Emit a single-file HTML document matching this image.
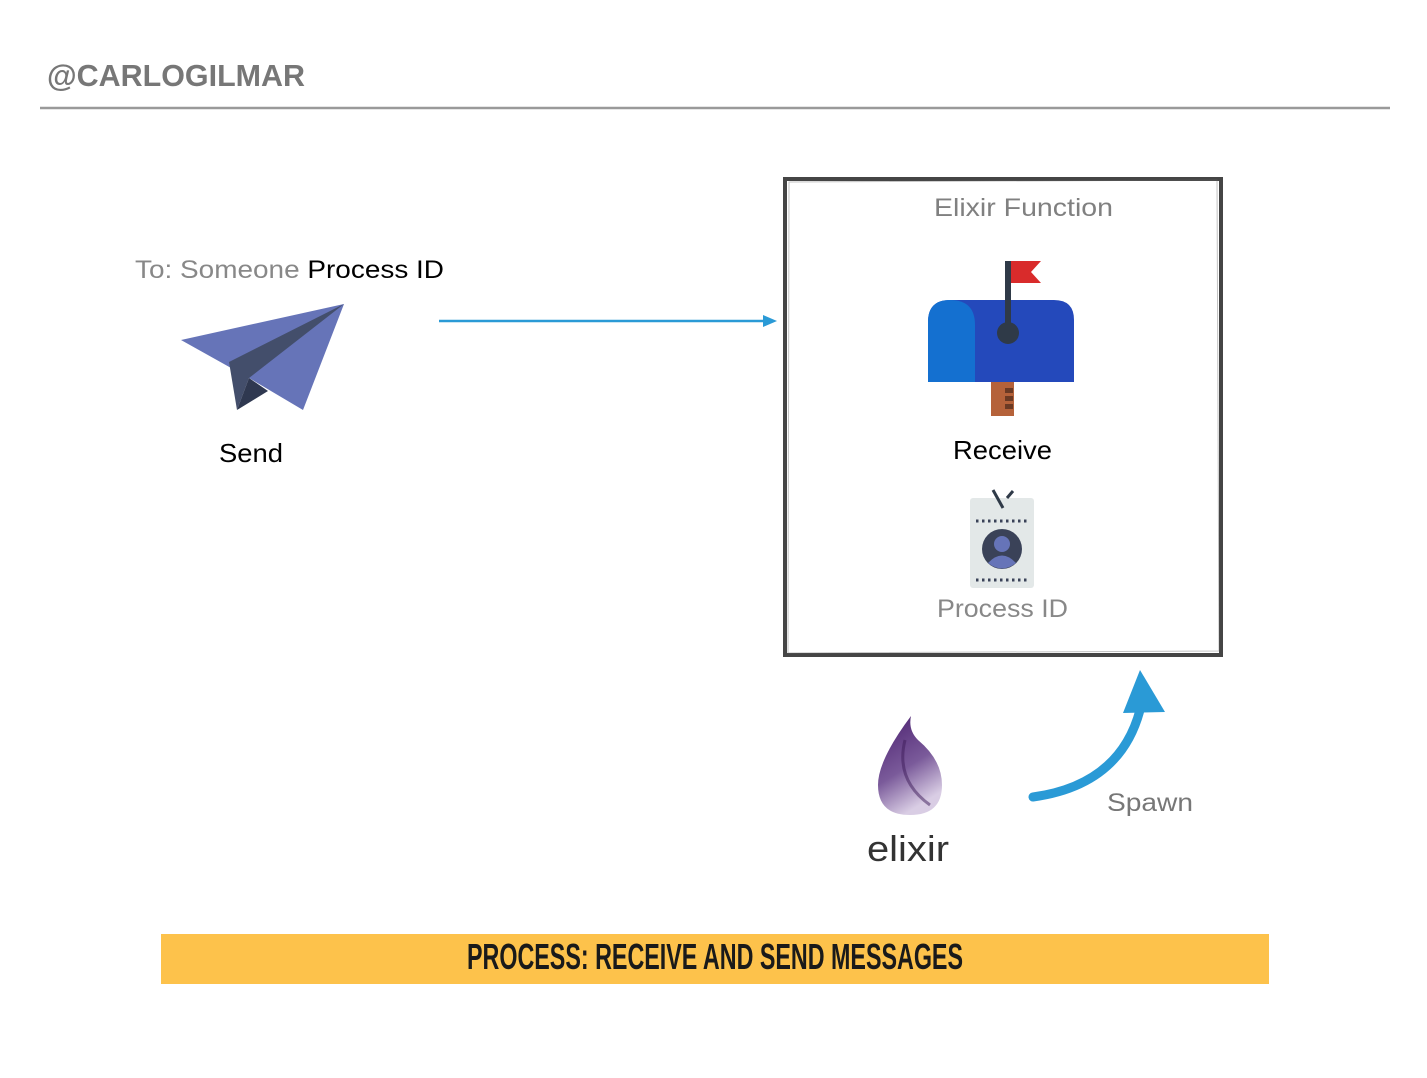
<!DOCTYPE html>
<html><head><meta charset="utf-8"><style>
html,body{margin:0;padding:0;background:#fff}
svg{display:block}
text{font-family:"Liberation Sans",sans-serif}
</style></head><body>
<svg width="1427" height="1078" viewBox="0 0 1427 1078" xmlns="http://www.w3.org/2000/svg">
<text x="47" y="86" font-size="31" font-weight="bold" fill="#777" textLength="258" lengthAdjust="spacingAndGlyphs">@CARLOGILMAR</text>
<line x1="40" y1="108" x2="1390" y2="108" stroke="#9a9a9a" stroke-width="2.5"/>

<!-- box -->
<rect x="785" y="179" width="436" height="476" fill="none" stroke="#454545" stroke-width="4"/>
<path d="M789 182 L1217 180 L1219 651 L788 653 Z" fill="none" stroke="#666" stroke-width="1" opacity="0.4"/>
<text x="934" y="216" font-size="25" fill="#808080" textLength="179" lengthAdjust="spacingAndGlyphs">Elixir Function</text>

<!-- send -->
<text x="135" y="278" font-size="25" fill="#888" textLength="309" lengthAdjust="spacingAndGlyphs">To: Someone <tspan fill="#000">Process ID</tspan></text>
<polygon points="181,340 344,304 303,410 249,378" fill="#6674b8"/>
<polygon points="229,362 344,304 249,378 237,410" fill="#434e6b"/>
<polygon points="249,378 237,410 268,391" fill="#2f3850"/>
<text x="219" y="462" font-size="26" fill="#000" textLength="64" lengthAdjust="spacingAndGlyphs">Send</text>

<line x1="439" y1="321" x2="766" y2="321" stroke="#2a9ad6" stroke-width="2.5"/>
<polygon points="777,321 763,315 763,327" fill="#2a9ad6"/>

<!-- mailbox -->
<rect x="991" y="382" width="23" height="34" fill="#b5623a"/>
<rect x="1005" y="388" width="8" height="5" fill="#6b3a24"/>
<rect x="1005" y="396" width="8" height="5" fill="#6b3a24"/>
<rect x="1005" y="404" width="8" height="5" fill="#6b3a24"/>
<path d="M950 300 H1054 Q1074 300 1074 320 V382 H928 V322 Q928 300 950 300Z" fill="#2449bb"/>
<path d="M950 300 Q975 300 975 325 V382 H928 V322 Q928 300 950 300Z" fill="#1470d0"/>
<rect x="1005" y="261" width="6" height="72" fill="#2f3a48"/>
<circle cx="1008" cy="333" r="11" fill="#2f3a48"/>
<polygon points="1011,261 1041,261 1031,272 1041,283 1011,283" fill="#d92b2b"/>
<text x="953" y="459" font-size="26" fill="#000" textLength="99" lengthAdjust="spacingAndGlyphs">Receive</text>

<!-- badge -->
<rect x="970" y="498" width="64" height="90" rx="3" fill="#e3e8e8"/>
<line x1="993" y1="490" x2="1003" y2="508" stroke="#2f3a48" stroke-width="3"/>
<line x1="1007" y1="498" x2="1013" y2="491" stroke="#2f3a48" stroke-width="3"/>
<line x1="976" y1="521" x2="1030" y2="521" stroke="#3a4258" stroke-width="3" stroke-dasharray="2.5,3.5"/>
<line x1="976" y1="580" x2="1030" y2="580" stroke="#3a4258" stroke-width="3" stroke-dasharray="2.5,3.5"/>
<circle cx="1002" cy="549" r="20" fill="#3a4258"/>
<circle cx="1002" cy="544" r="8" fill="#6674b8"/>
<path d="M988 563 Q1002 548 1016 563 Q1002 574 988 563Z" fill="#6674b8"/>
<text x="937" y="617" font-size="25" fill="#888" textLength="131" lengthAdjust="spacingAndGlyphs">Process ID</text>

<!-- elixir drop -->
<defs><linearGradient id="g" x1="0" y1="0" x2="0.4" y2="1"><stop offset="0" stop-color="#4a1f6e"/><stop offset="0.6" stop-color="#7a5a9a"/><stop offset="1" stop-color="#d9cde4"/></linearGradient></defs>
<path d="M911 716 Q878 760 878 785 Q878 815 910 815 Q942 815 942 785 Q942 760 918 740 Q908 730 911 716Z" fill="url(#g)"/>
<path d="M905 740 Q895 780 930 805" fill="none" stroke="#3c1a58" stroke-width="3" opacity="0.5"/>
<text x="867" y="861" font-size="36" fill="#333" textLength="82" lengthAdjust="spacingAndGlyphs">elixir</text>

<!-- spawn arrow -->
<path d="M1033 797 Q1120 785 1140 710" fill="none" stroke="#2a9ad6" stroke-width="9" stroke-linecap="round"/>
<polygon points="1123,713 1140,670 1165,712" fill="#2a9ad6"/>
<text x="1107" y="811" font-size="25" fill="#777" textLength="86" lengthAdjust="spacingAndGlyphs">Spawn</text>

<!-- banner -->
<rect x="161" y="934" width="1108" height="50" fill="#fdc24b"/>
<text x="715" y="969" font-size="36" font-weight="bold" fill="#1a1a1a" text-anchor="middle" textLength="496" lengthAdjust="spacingAndGlyphs">PROCESS: RECEIVE AND SEND MESSAGES</text>
</svg>
</body></html>
